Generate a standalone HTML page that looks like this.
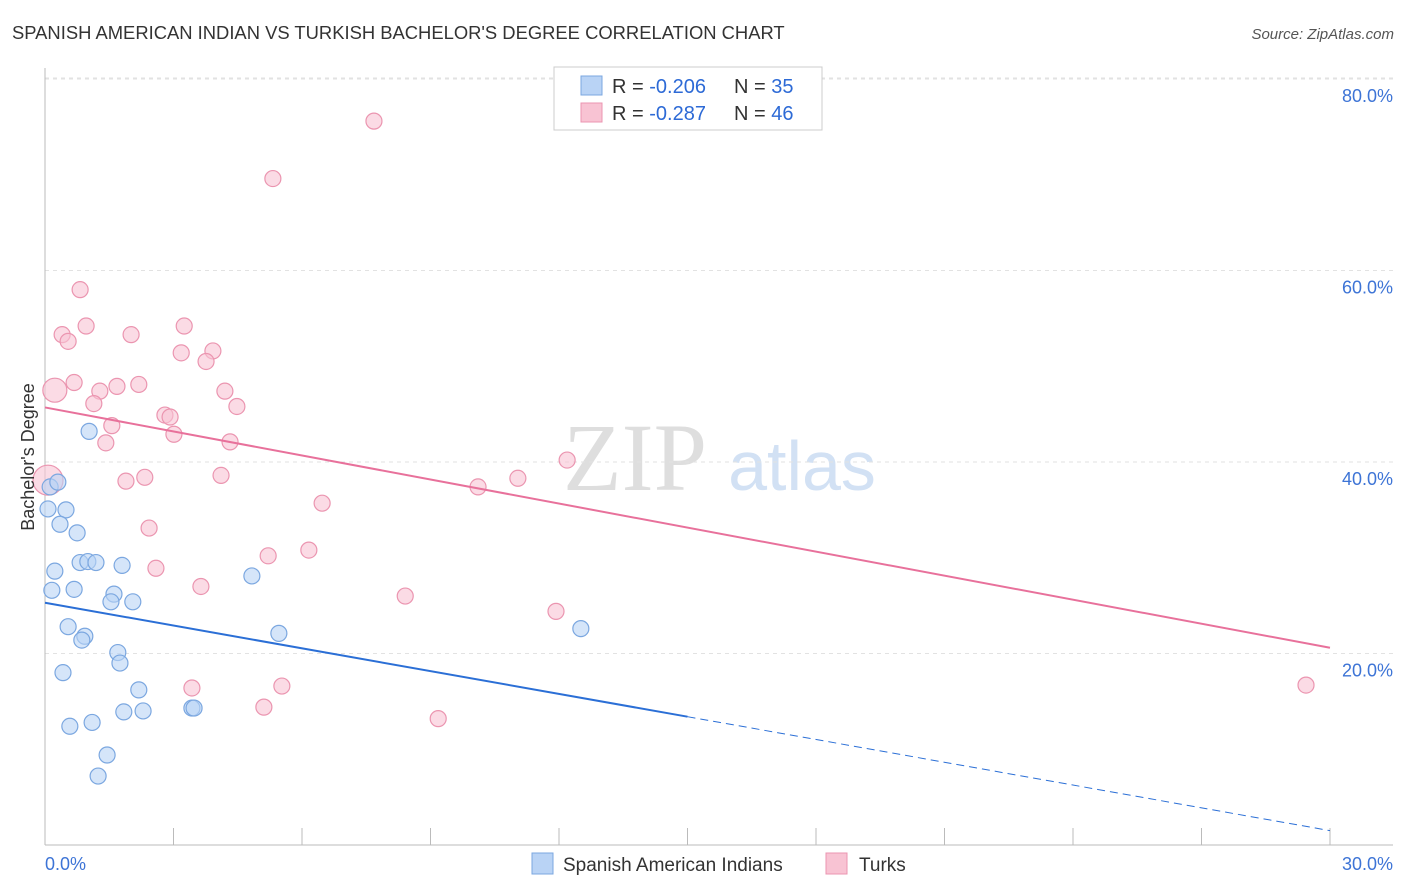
<!DOCTYPE html>
<html><head><meta charset="utf-8">
<style>
body{margin:0;background:#fff;font-family:"Liberation Sans",sans-serif;}
svg{display:block}
</style></head>
<body>
<svg id="chart" width="1406" height="892" xmlns="http://www.w3.org/2000/svg">
<text x="12" y="39" font-size="18.4" fill="#333">SPANISH AMERICAN INDIAN VS TURKISH BACHELOR'S DEGREE CORRELATION CHART</text>
<text x="1394" y="39" font-size="15" fill="#555" font-style="italic" text-anchor="end">Source: ZipAtlas.com</text>
<g>
<text x="635" y="490" font-size="96" font-family="Liberation Serif,serif" fill="#dedede" text-anchor="middle">ZIP</text>
<text x="802" y="490" font-size="70" fill="#d2e1f4" text-anchor="middle">atlas</text>
</g>
<g id="grid"></g>
<g id="axes"></g>
<g id="marks"></g>
<g>
<rect x="554" y="67" width="268" height="63" fill="#fff" stroke="#ccc"/>
<rect x="581" y="76" width="21" height="19" fill="#b9d3f5" stroke="#7ba7e0"/>
<rect x="581" y="103" width="21" height="19" fill="#f8c3d3" stroke="#eb95b0"/>
<text x="612" y="93" font-size="20" fill="#333">R = <tspan fill="#2d6ad6">-0.206</tspan></text>
<text x="734" y="93" font-size="20" fill="#333">N = <tspan fill="#2d6ad6">35</tspan></text>
<text x="612" y="120" font-size="20" fill="#333">R = <tspan fill="#2d6ad6">-0.287</tspan></text>
<text x="734" y="120" font-size="20" fill="#333">N = <tspan fill="#2d6ad6">46</tspan></text>
</g>
<g>
<rect x="532" y="853" width="21" height="21" fill="#b9d3f5" stroke="#7ba7e0"/>
<text x="563" y="871" font-size="19" fill="#333">Spanish American Indians</text>
<rect x="826" y="853" width="21" height="21" fill="#f8c3d3" stroke="#eb95b0"/>
<text x="859" y="871" font-size="19" fill="#333">Turks</text>
</g>
<text transform="translate(34,457) rotate(-90)" font-size="18" fill="#333" text-anchor="middle">Bachelor's Degree</text>
</svg>
<script>
const yTicks=[20,40,60,80];
const yTickLabels=["20.0%","40.0%","60.0%","80.0%"];
const xTickVals=[0,3,6,9,12,15,18,21,24,27,30];
const blueX=[0.12,0.30,0.07,0.49,0.35,0.75,0.23,0.16,0.68,1.03,0.82,1.00,1.19,1.80,1.61,1.54,2.05,0.54,0.93,0.86,1.70,1.75,0.42,2.19,1.84,2.29,3.43,3.48,0.58,1.10,1.45,1.24,4.83,5.46,12.51];
const blueY=[37.4,37.9,35.1,35.0,33.5,32.6,28.6,26.6,26.7,43.2,29.5,29.6,29.5,29.2,26.2,25.4,25.4,22.8,21.8,21.4,20.1,19.0,18.0,16.2,13.9,14.0,14.3,14.3,12.4,12.8,9.4,7.2,28.1,22.1,22.6];
const pinkX=[0.07,0.23,0.40,0.54,0.82,0.96,2.01,3.25,3.18,3.92,3.76,0.68,1.28,1.68,2.19,1.14,4.20,4.48,2.80,2.92,1.56,3.01,1.42,4.32,1.89,2.33,4.11,7.68,5.32,6.47,2.43,5.21,6.16,2.59,3.64,8.41,10.11,11.04,12.19,11.93,3.43,5.53,5.11,9.18,29.44,12.28];
const pinkY=[38.1,47.5,53.3,52.6,58.0,54.2,53.3,54.2,51.4,51.6,50.5,48.3,47.4,47.9,48.1,46.1,47.4,45.8,44.9,44.7,43.8,42.9,42.0,42.1,38.0,38.4,38.6,75.6,69.6,35.7,33.1,30.2,30.8,28.9,27.0,26.0,37.4,38.3,40.2,24.4,16.4,16.6,14.4,13.2,16.7,79.0];
const blueTrend=[25.3,1.5];
const pinkTrend=[45.7,20.6];
const blueSolidEnd=15;

const NS="http://www.w3.org/2000/svg";
const X0=45,X1=1330,Y0=845,PY=9.575;
function sx(v){return X0+(v/30)*(X1-X0);}
function sy(v){return Y0-v*PY;}
function mk(tag,attrs,parent){const e=document.createElementNS(NS,tag);for(const k in attrs)e.setAttribute(k,attrs[k]);parent.appendChild(e);return e;}
const grid=document.getElementById('grid'),axes=document.getElementById('axes'),marks=document.getElementById('marks');
yTicks.forEach((t,i)=>{
 const l=mk('line',{x1:X0,x2:1393,y1:sy(t),y2:sy(t),stroke:'#e2e2e2','stroke-dasharray':'4,4'},grid);
 
 
 const tx=mk('text',{x:1393,y:sy(t)+23,'font-size':18,fill:'#3d74d6','text-anchor':'end'},axes);
 tx.textContent=yTickLabels[i];
 
 
});
const topLine=mk('line',{x1:X0,x2:1393,y1:78,y2:78,stroke:'#e2e2e2','stroke-dasharray':'4,4'},grid);


const ya=mk('line',{x1:X0,x2:X0,y1:68,y2:Y0,stroke:'#bbb'},axes);


const xa=mk('line',{x1:X0,x2:1393,y1:Y0,y2:Y0,stroke:'#bbb'},axes);


xTickVals.forEach(v=>{
 const t=mk('line',{x1:sx(v),x2:sx(v),y1:828,y2:Y0,stroke:'#bbb'},axes);
 
 
});
const xl0=mk('text',{x:45,y:870,'font-size':18,fill:'#3d74d6'},axes);xl0.textContent='0.0%';


const xl1=mk('text',{x:1393,y:870,'font-size':18,fill:'#3d74d6','text-anchor':'end'},axes);xl1.textContent='30.0%';



pinkX.forEach((x,i)=>{
 const r=(i===0)?15:(i===1?12:8);
 const c=mk('circle',{cx:sx(x),cy:sy(pinkY[i]),r:r,fill:'#f8c3d3','fill-opacity':0.6,stroke:'#eb95b0','stroke-width':1.2},marks);
 
 
});
blueX.forEach((x,i)=>{
 const c=mk('circle',{cx:sx(x),cy:sy(blueY[i]),r:8,fill:'#b9d3f5','fill-opacity':0.6,stroke:'#7ba7e0','stroke-width':1.2},marks);
 
 
});
function ty(tr,x){return tr[0]+(tr[1]-tr[0])*x/30;}
const pl=mk('line',{x1:sx(0),y1:sy(pinkTrend[0]),x2:sx(30),y2:sy(pinkTrend[1]),stroke:'#e8719b','stroke-width':2},marks);


const bl=mk('line',{x1:sx(0),y1:sy(blueTrend[0]),x2:sx(blueSolidEnd),y2:sy(ty(blueTrend,blueSolidEnd)),stroke:'#2b6fd6','stroke-width':2},marks);


const bd=mk('line',{x1:sx(blueSolidEnd),y1:sy(ty(blueTrend,blueSolidEnd)),x2:sx(30),y2:sy(blueTrend[1]),stroke:'#2b6fd6','stroke-width':1,'stroke-dasharray':'8,5'},marks);


</script>
</body></html>
